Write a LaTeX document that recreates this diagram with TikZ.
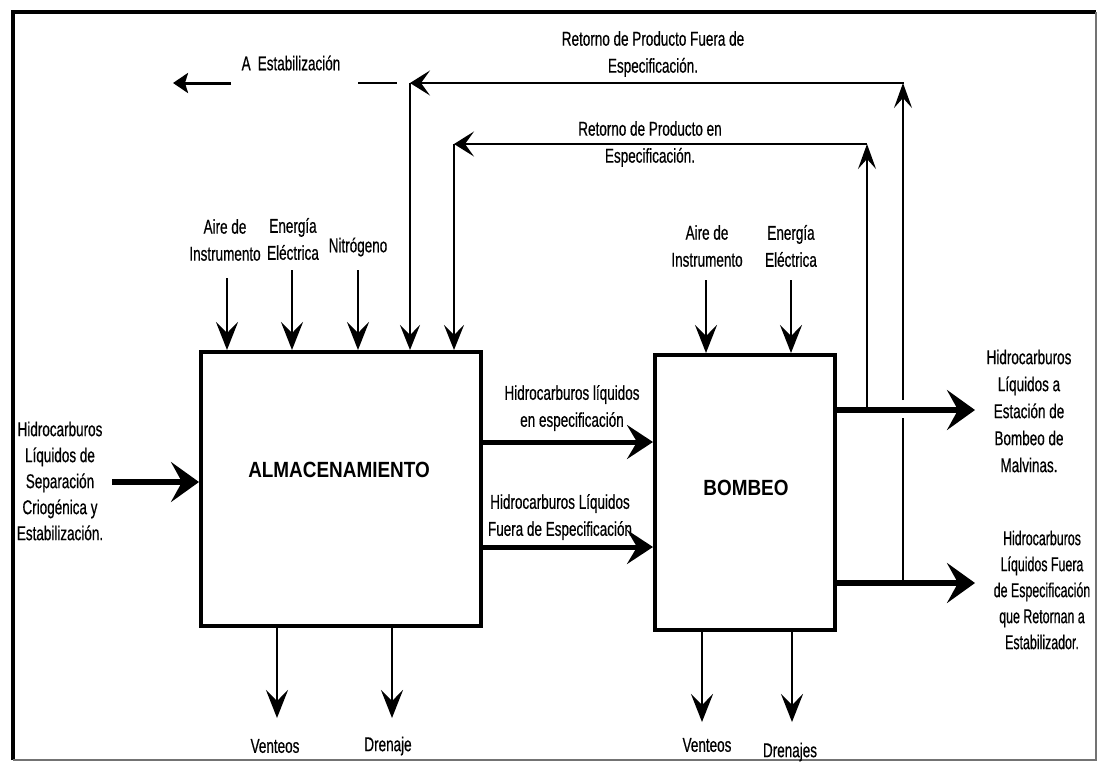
\documentclass[tikz,border=0pt]{standalone}
\usepackage{fontspec}
\setmainfont{Liberation Sans}[FakeStretch=0.675, FakeBold=0.5]
\newfontfamily\narrowfont{Liberation Sans}[FakeStretch=0.62, FakeBold=0.5]
\newfontfamily\ttlfont{Liberation Sans}[FakeStretch=0.86]
\usetikzlibrary{arrows.meta}
\begin{document}
\begin{tikzpicture}[x=1pt,y=-1pt,
  lbl/.style={align=center, font=\fontsize{20}{27}\selectfont, inner sep=0pt},
  lbltight/.style={lbl, font=\fontsize{20}{26}\selectfont},
  lblnarrow/.style={lbl, font=\narrowfont\fontsize{20}{26}\selectfont},
  box/.style={draw, line width=4pt, inner sep=0pt},
  ttl/.style={font=\ttlfont\bfseries\fontsize{22}{25}\selectfont, inner sep=0pt},
  thinln/.style={line width=1.8pt, line cap=rect},
  inarr/.style={line width=2.4pt, -{Stealth[length=28pt,width=22pt,inset=11pt]}},
  downhead/.style={line width=1.8pt, -{Stealth[length=25pt,width=20pt,inset=10pt]}},
  uphead/.style={line width=1.8pt, -{Stealth[length=25pt,width=18pt,inset=10pt]}},
  lefthead/.style={line width=1.8pt, -{Stealth[length=20pt,width=25pt,inset=9pt]}},
  estarr/.style={line width=3pt, -{Stealth[length=15pt,width=20pt,inset=3pt]}},
  bigarr/.style={line width=5.5pt, -{Stealth[length=28pt,width=40pt,inset=11pt]}},
  midarr/.style={line width=5pt, -{Stealth[length=26pt,width=34pt,inset=10pt]}},
]
\useasboundingbox (0,0) rectangle (1099,769);
\fill[white] (0,0) rectangle (1099,769);
% frame
\draw[line width=3.5pt] (13,760) -- (13,12) -- (1096,12);
\draw[line width=1.5pt, black!55] (1096,12) -- (1096,760) -- (13,760);

% boxes
\node[box, minimum width=280pt, minimum height=274pt] (alm) at (341,489) {};
\node[ttl] (almt) at (339,470) {ALMACENAMIENTO};
\node[box, minimum width=180pt, minimum height=275pt] (bom) at (745,492.5) {};
\node[ttl] (bomt) at (746,488) {BOMBEO};

% labels
\node[lbl] (a1) at (225,240) {Aire de\\Instrumento};
\node[lbl] (e1) at (293,239) {Energía\\Eléctrica};
\node[lbl] (n1) at (358,247) {Nitrógeno};
\node[lbl] (a2) at (707,246) {Aire de\\Instrumento};
\node[lbl] (e2) at (791,246) {Energía\\Eléctrica};
\node[lbl] (rf) at (653,54) {Retorno de Producto Fuera de\\Especificación.};
\node[lbl] (re) at (650,144) {Retorno de Producto en\\Especificación.};
\node[lbl] (est) at (291,63) {A\, Estabilización};
\node[lbltight] (inp) at (60,481) {Hidrocarburos\\Líquidos de\\Separación\\Criogénica y\\Estabilización.};
\node[lbl] (hl1) at (572,408) {Hidrocarburos líquidos\\en especificación};
\node[lbl] (hl2) at (560,517) {Hidrocarburos Líquidos\\Fuera de Especificación};
\node[lbl] (mal) at (1029,411) {Hidrocarburos\\Líquidos a\\Estación de\\Bombeo de\\Malvinas.};
\node[lblnarrow] (fue) at (1042,590) {Hidrocarburos\\Líquidos Fuera\\de Especificación\\que Retornan a\\Estabilizador.};
\node[lbl] (v1) at (275,746) {Venteos};
\node[lbl] (d1) at (388,746) {Drenaje};
\node[lbl] (v2) at (707,745) {Venteos};
\node[lbl] (d2) at (790,752) {Drenajes};

% coordinates
\coordinate (sa1) at (227,278);
\coordinate (se1) at (292,270);
\coordinate (sn1) at (358,270);
\coordinate (sa2) at (706,280);
\coordinate (se2) at (791,280);
\coordinate (oc) at (410,83);
\coordinate (orr) at (903,83);
\coordinate (ob) at (903,583);
\coordinate (og1) at (903,419);
\coordinate (og2) at (903,400);
\coordinate (ic) at (454,144);
\coordinate (ir) at (867,144);
\coordinate (ib) at (867,410);
\coordinate (mvt) at (975,410);
\coordinate (fet) at (975,583);
\coordinate (dsh1) at (358,83);
\coordinate (dsh2) at (397,83);
\coordinate (st1) at (231,83);
\coordinate (st0) at (173,83);
\coordinate (li) at (112,482);
\coordinate (hm1) at (560,442);
\coordinate (hm2) at (560,547);
\coordinate (tv1) at (277,718);
\coordinate (td1) at (392,718);
\coordinate (tv2) at (702,722);
\coordinate (td2) at (792,722);

% inputs to top
\draw[inarr] (sa1) -- (sa1 |- alm.north);
\draw[inarr] (se1) -- (se1 |- alm.north);
\draw[inarr] (sn1) -- (sn1 |- alm.north);
\draw[inarr] (sa2) -- (sa2 |- bom.north);
\draw[inarr] (se2) -- (se2 |- bom.north);

% outputs right
\draw[bigarr] (bom.east |- mvt) -- (mvt);
\draw[bigarr] (bom.east |- fet) -- (fet);

% outer return loop
\draw[thinln] (ob) -- (og1);
\draw[uphead] (og2) -- (orr);
\draw[thinln] (orr) -- ([xshift=-10pt]orr);
\draw[lefthead] (orr) -- (oc);
\draw[downhead] (oc) -- (oc |- alm.north);
\draw[thinln, line cap=butt] (dsh1) -- (dsh2);
\draw[estarr] (st1) -- (st0);

% inner return loop
\draw[uphead] (ib) -- (ir);
\draw[lefthead] (ir) -- (ic);
\draw[downhead] (ic) -- (ic |- alm.north);

% left input
\draw[bigarr] (li) -- (li -| alm.west);

% middle transfers
\draw[midarr] (alm.east |- hm1) -- (bom.west |- hm1);
\draw[midarr] (alm.east |- hm2) -- (bom.west |- hm2);

% bottom outputs
\draw[inarr] (alm.south -| tv1) -- (tv1);
\draw[inarr] (alm.south -| td1) -- (td1);
\draw[inarr] (bom.south -| tv2) -- (tv2);
\draw[inarr] (bom.south -| td2) -- (td2);
\end{tikzpicture}
\end{document}
